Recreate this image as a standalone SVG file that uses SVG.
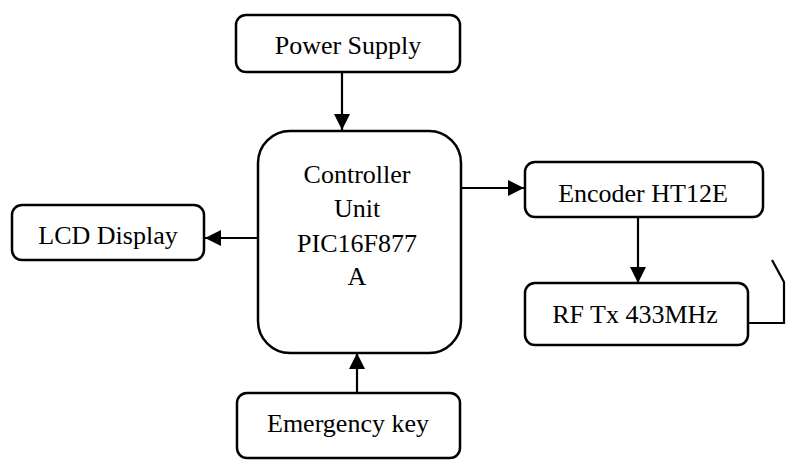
<svg xmlns="http://www.w3.org/2000/svg" width="787" height="461" viewBox="0 0 787 461">
<style>
.box{fill:#fff;stroke:#000;stroke-width:2.5}
.c{stroke:#000;stroke-width:2.2;fill:none}
</style>
<defs>
<marker id="ah" viewBox="0 0 10 10" refX="10" refY="5" markerWidth="16" markerHeight="16" markerUnits="userSpaceOnUse" orient="auto">
<path d="M0,0 L10,5 L0,10 Z" fill="#000"/>
</marker>
</defs>
<rect width="787" height="461" fill="#fff"/>
<g id="connectors">
<line class="c" x1="342" y1="72" x2="342" y2="130" marker-end="url(#ah)"/>
<line class="c" x1="257" y1="238" x2="205" y2="238" marker-end="url(#ah)"/>
<line class="c" x1="461" y1="188" x2="524" y2="188" marker-end="url(#ah)"/>
<line class="c" x1="638" y1="217" x2="638" y2="283" marker-end="url(#ah)"/>
<line class="c" x1="357" y1="393" x2="357" y2="353" marker-end="url(#ah)"/>
<polyline class="c" points="748,323 784,323 784,282 772,260"/>
</g>
<g font-family="Liberation Serif, Times New Roman, serif" font-size="26" fill="#000" text-anchor="middle">
<g id="power-supply">
<rect class="box" x="236" y="15" width="224" height="57" rx="10"/>
<text x="348" y="54">Power Supply</text>
</g>
<g id="controller">
<rect class="box" x="258" y="131" width="203" height="222" rx="32"/>
<text x="357" y="183">Controller</text>
<text x="357" y="217">Unit</text>
<text x="357" y="252">PIC16F877</text>
<text x="357" y="285">A</text>
</g>
<g id="lcd">
<rect class="box" x="12" y="205" width="192" height="55" rx="10"/>
<text x="108" y="244">LCD Display</text>
</g>
<g id="encoder">
<rect class="box" x="525" y="162" width="238" height="55" rx="10"/>
<text x="643" y="202">Encoder HT12E</text>
</g>
<g id="rf-tx">
<rect class="box" x="525" y="283" width="223" height="62" rx="10"/>
<text x="635" y="323">RF Tx 433MHz</text>
</g>
<g id="emergency">
<rect class="box" x="237" y="393" width="223" height="65" rx="10"/>
<text x="348" y="432">Emergency key</text>
</g>
</g>
</svg>
